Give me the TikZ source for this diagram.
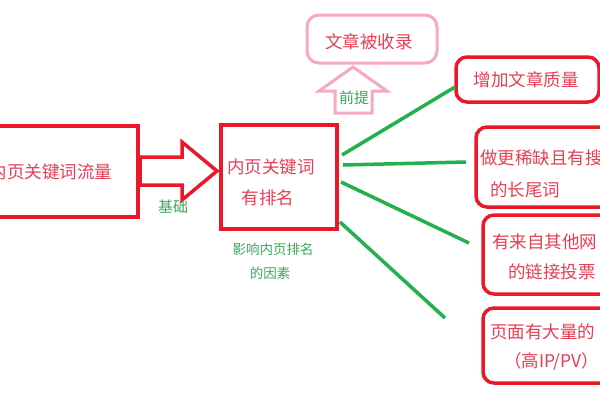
\documentclass[tikz,border=0pt]{standalone}
\usepackage{fontspec}
\setmainfont{Noto Sans CJK SC}
\definecolor{boxred}{RGB}{234,24,40}
\definecolor{txtred}{RGB}{232,62,84}
\definecolor{lgreen}{RGB}{34,177,76}
\definecolor{txtgreen}{RGB}{60,168,90}
\definecolor{lpink}{RGB}{246,168,196}
\begin{document}
\begin{tikzpicture}[x=1pt,y=-1pt,
  redbox/.style={draw=boxred, line width=4pt, inner sep=0pt},
  roundbox/.style={draw=boxred, line width=3.5pt, rounded corners=11pt, inner sep=0pt},
  pinkbox/.style={draw=lpink, line width=3pt, rounded corners=12pt, inner sep=0pt},
  rtext/.style={text=txtred, font=\fontsize{17.5}{20}\selectfont, inner sep=0pt},
  gtext/.style={text=txtgreen, font=\fontsize{13.5}{16}\selectfont, inner sep=0pt},
  gbig/.style={text=txtgreen, font=\fontsize{15}{18}\selectfont, inner sep=0pt},
  gline/.style={draw=lgreen, line width=3.5pt},
  hollowred/.style={draw=boxred, line width=3.5pt, fill=white, line join=miter},
  hollowpink/.style={draw=lpink, line width=3pt, fill=white, line join=miter}]
\useasboundingbox (0,0) rectangle (600,400);
\clip (0,0) rectangle (600,400);
\fill[white] (0,0) rectangle (600,400);
% left box
\node[redbox, minimum width=150pt, minimum height=91pt] (lbox) at (63,171) {};
\node[rtext] (ltext) at (51,172) {内页关键词流量};
% hollow arrow
\draw[hollowred] (140,157) -- (182,157) -- (182,142) -- (217,171) -- (182,200) -- (182,185) -- (140,185) -- cycle;
\node[gbig] (jichu) at (173,207) {基础};
% middle box
\node[redbox, minimum width=116pt, minimum height=104pt] (mbox) at (279,177) {};
\node[rtext] (m1) at (271,167) {内页关键词};
\node[rtext] (m2) at (268,198) {有排名};
\node[gtext] (f1) at (273,249) {影响内页排名};
\node[gtext] (f2) at (270,273) {的因素};
% top pink box
\node[pinkbox, minimum width=130pt, minimum height=48pt] (pbox) at (372,39) {};
\node[rtext] (ptext) at (369,42) {文章被收录};
\draw[hollowpink] (335,113) -- (335,91) -- (319,91) -- (353,67) -- (387,91) -- (372,91) -- (372,113) -- cycle;
\node[gbig] (qianti) at (354,98) {前提};
% right boxes
\node[roundbox, minimum width=143pt, minimum height=45pt] (ra) at (527.5,79.5) {};
\node[rtext] (ta) at (526,80) {增加文章质量};
\node[roundbox, minimum width=164pt, minimum height=80pt] (rb) at (558,167) {};
\node[rtext, anchor=west] (tb1) at (480,158) {做更稀缺且有搜};
\node[rtext, anchor=west] (tb2) at (490,190) {的长尾词};
\node[roundbox, minimum width=157pt, minimum height=79pt] (rc) at (561.5,254.5) {};
\node[rtext, anchor=west] (tc1) at (492,242) {有来自其他网};
\node[rtext, anchor=west] (tc2) at (508,272) {的链接投票};
\node[roundbox, minimum width=157pt, minimum height=75pt] (rd) at (561.5,345.5) {};
\node[rtext, anchor=west] (td1) at (490,332) {页面有大量的};
\node[rtext, anchor=west] (td2) at (504,362) {（高IP/PV）};
% green connectors
\coordinate (s1) at (342,155);
\coordinate (s2) at (343,165);
\coordinate (s3) at (341,182);
\coordinate (s4) at (340,222);
\coordinate (e1) at (455,87);
\coordinate (e2) at (466,162);
\coordinate (e3) at (469,243);
\coordinate (e4) at (445,318);
\draw[gline] (s1) -- (e1);
\draw[gline] (s2) -- (e2);
\draw[gline] (s3) -- (e3);
\draw[gline] (s4) -- (e4);
\end{tikzpicture}
\end{document}
